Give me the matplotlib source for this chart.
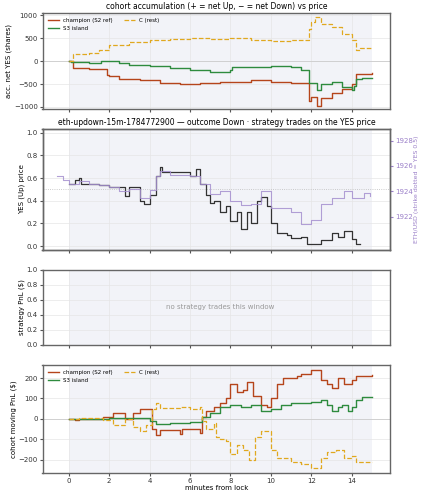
import matplotlib
matplotlib.use("Agg")
import matplotlib.pyplot as plt
import numpy as np

# accumulation (shares)
acc_ch_t = [0,0.2,1,1.9,2.0,2.5,3.5,4.5,5.5,6.5,7.5,9,10,11,11.9,12,12.3,12.5,13,13.5,14,14.2,15]
acc_ch_v = [0,-150,-180,-300,-320,-380,-420,-480,-500,-470,-450,-420,-450,-480,-870,-780,-980,-800,-700,-600,-500,-280,-270]
acc_s3_t = [0,0.1,1,1.6,2,2.5,3,4,5,6,7,8,8.1,9,10,11,11.5,11.9,12.3,12.5,13,13.5,14,14.1,14.2,14.5,15]
acc_s3_v = [0,-20,-40,10,0,-50,-80,-110,-150,-200,-230,-200,-120,-130,-100,-120,-200,-480,-620,-500,-450,-560,-620,-540,-400,-360,-360]
acc_c_t = [0,0.2,1,1.5,2,3,4,5,6,7,8,9,10,11,11.9,12,12.2,12.5,13,13.5,14,14.2,14.4,15]
acc_c_v = [0,150,180,250,350,420,460,490,500,480,500,470,430,470,700,850,960,800,750,600,450,250,290,280]

# YES price and ETH price
yes_t = [0,0.3,0.5,0.6,1.5,2,2.8,3.0,3.5,3.7,4,4.3,4.5,4.6,5.5,6,6.3,6.5,6.8,7.0,7.2,7.5,7.8,8,8.3,8.5,8.8,9,9.3,9.5,9.8,10,10.3,10.8,11,11.5,11.8,12.5,13,13.3,13.6,14,14.2,14.4]
yes_v = [0.55,0.58,0.6,0.55,0.54,0.52,0.44,0.52,0.4,0.37,0.45,0.62,0.7,0.65,0.65,0.62,0.68,0.55,0.45,0.38,0.4,0.3,0.35,0.22,0.3,0.15,0.3,0.2,0.4,0.43,0.35,0.2,0.12,0.1,0.07,0.08,0.02,0.05,0.12,0.08,0.13,0.06,0.02,0.02]
eth_t = [-0.6,-0.3,0,0.5,1,1.5,2,2.5,3,3.5,4,4.3,4.5,5,6,6.5,7,7.5,8,8.5,9,9.5,10,11,11.5,12,12.5,13,13.6,14,14.6,14.9]
eth_v = [1925.2,1924.9,1924.6,1924.8,1924.6,1924.5,1924.3,1924.0,1924.2,1923.5,1924.1,1925.2,1925.6,1925.3,1925.2,1924.6,1923.8,1924.0,1923.2,1922.9,1923.0,1924.0,1922.7,1922.4,1921.4,1921.7,1923.0,1923.5,1924.0,1923.5,1923.9,1923.6]

# cohort PnL ($)
pnl_ch_t = [0,0.3,0.5,1.7,2.2,2.8,3.2,3.5,4.1,4.3,4.5,5.5,5.6,6.5,6.6,6.8,7.2,7.5,7.8,8,8.3,8.6,8.8,9.1,9.5,9.8,10,10.3,10.6,11.3,11.5,12,12.5,12.8,13,13.3,13.6,14,14.2,15]
pnl_ch_v = [0,-5,0,8,30,0,30,50,-50,-80,-55,-75,-50,-70,10,40,60,80,100,170,130,140,180,110,70,60,100,170,200,210,220,240,190,170,150,200,170,190,210,215]
pnl_s3_t = [0,2,3.5,4,4.3,5,6,6.6,7,7.5,8,8.5,9,9.5,10,10.5,11,12,12.5,12.8,13,13.3,13.5,13.8,14,14.2,14.5,15]
pnl_s3_v = [0,3,5,-10,-25,-20,-15,10,30,60,70,60,70,40,50,70,80,85,90,70,40,60,70,40,60,90,105,107]
pnl_c_t = [0,0.5,1.7,2.2,2.8,3.2,3.5,3.8,4.1,4.3,4.5,5.5,6,6.5,6.6,6.8,7.2,7.3,7.5,7.8,8,8.3,8.6,8.9,9.2,9.5,10,10.3,11,11.5,12,12.5,12.8,13.2,13.6,14,14.2,15]
pnl_c_v = [0,5,-5,-30,0,-40,-60,-30,50,80,55,60,50,60,-10,-50,-20,-90,-100,-110,-170,-130,-150,-200,-90,-60,-150,-190,-210,-220,-240,-190,-160,-150,-190,-180,-210,-213]

C_CH, C_S3, C_C = "#b5451b", "#2e8b3e", "#e0a81f"
SPAN = "#f2f3f8"
FS = 5

fig = plt.figure(figsize=(4.25, 5), dpi=100)
gs = fig.add_gridspec(4, 1, height_ratios=[96, 120, 75, 108], hspace=0.2,
                      left=0.1, right=0.918, top=0.974, bottom=0.054)
axs = [fig.add_subplot(gs[i]) for i in range(4)]
for ax in axs[1:]:
    ax.sharex(axs[0])
for ax in axs:
    ax.axvspan(0, 15, color=SPAN, zorder=0, lw=0)
    ax.grid(True, color="#e6e6e6", lw=0.5)
    ax.set_axisbelow(True)
    ax.tick_params(labelsize=FS, length=2, pad=1.5, color="#555", labelcolor="#333")
    for s in ax.spines.values():
        s.set_color("#666"); s.set_linewidth(1.0)
    if ax is not axs[3]:
        ax.tick_params(labelbottom=False)
axs[0].set_xlim(-1.3, 15.9)

a = axs[0]
a.axhline(0, color="#ccc", lw=0.6)
a.plot(acc_ch_t, acc_ch_v, drawstyle="steps-post", color=C_CH, lw=1, label="champion (S2 ref)")
a.plot(acc_s3_t, acc_s3_v, drawstyle="steps-post", color=C_S3, lw=1, label="S3 island")
a.plot(acc_c_t, acc_c_v, drawstyle="steps-post", color=C_C, lw=0.9, ls="--", label="C (rest)")
a.set_ylim(-1050, 1050)
a.set_ylabel("acc. net YES (shares)", fontsize=FS, labelpad=1)
a.set_title("cohort accumulation (+ = net Up, − = net Down) vs price", fontsize=5.5, pad=3)
a.legend(ncol=2, fontsize=4, loc="upper left", frameon=False)

a = axs[1]
a.axhline(0.5, color="#bbb", lw=0.6, ls=":")
a.plot(yes_t, yes_v, drawstyle="steps-post", color="#333", lw=0.9)
a.set_ylim(-0.03, 1.03)
a.set_ylabel("YES (Up) price", fontsize=FS, labelpad=1)
a.set_title("eth-updown-15m-1784772900 — outcome Down · strategy trades on the YES price", fontsize=5.5, pad=3)
t = a.twinx()
t.plot(eth_t, eth_v, drawstyle="steps-post", color="#a58fcf", lw=0.8, alpha=0.85)
t.set_ylim(1919.4, 1928.9)
t.set_yticks([1922, 1924, 1926, 1928])
t.tick_params(labelsize=FS, colors="#9a7fc8", length=2, pad=1.5)
t.set_ylabel("ETH/USD (strike dotted = YES 0.5)", fontsize=4.5, color="#9a7fc8", labelpad=1)
for s in t.spines.values():
    s.set_color("#666"); s.set_linewidth(1.0)

a = axs[2]
a.set_ylim(0, 1)
a.set_ylabel("strategy PnL ($)", fontsize=FS, labelpad=1)
a.text(7.5, 0.5, "no strategy trades this window", ha="center", va="center", fontsize=5, color="#999")

a = axs[3]
a.axhline(0, color="#ccc", lw=0.6)
a.plot(pnl_ch_t, pnl_ch_v, drawstyle="steps-post", color=C_CH, lw=1, label="champion (S2 ref)")
a.plot(pnl_s3_t, pnl_s3_v, drawstyle="steps-post", color=C_S3, lw=1, label="S3 island")
a.plot(pnl_c_t, pnl_c_v, drawstyle="steps-post", color=C_C, lw=0.9, ls="--", label="C (rest)")
a.set_ylim(-265, 265)
a.set_ylabel("cohort moving PnL ($)", fontsize=FS, labelpad=1)
a.set_xlabel("minutes from lock", fontsize=FS, labelpad=1)
a.set_xticks([0, 2, 4, 6, 8, 10, 12, 14])
a.legend(ncol=2, fontsize=4, loc="upper left", frameon=False)

fig.savefig("out.png", dpi=100)
